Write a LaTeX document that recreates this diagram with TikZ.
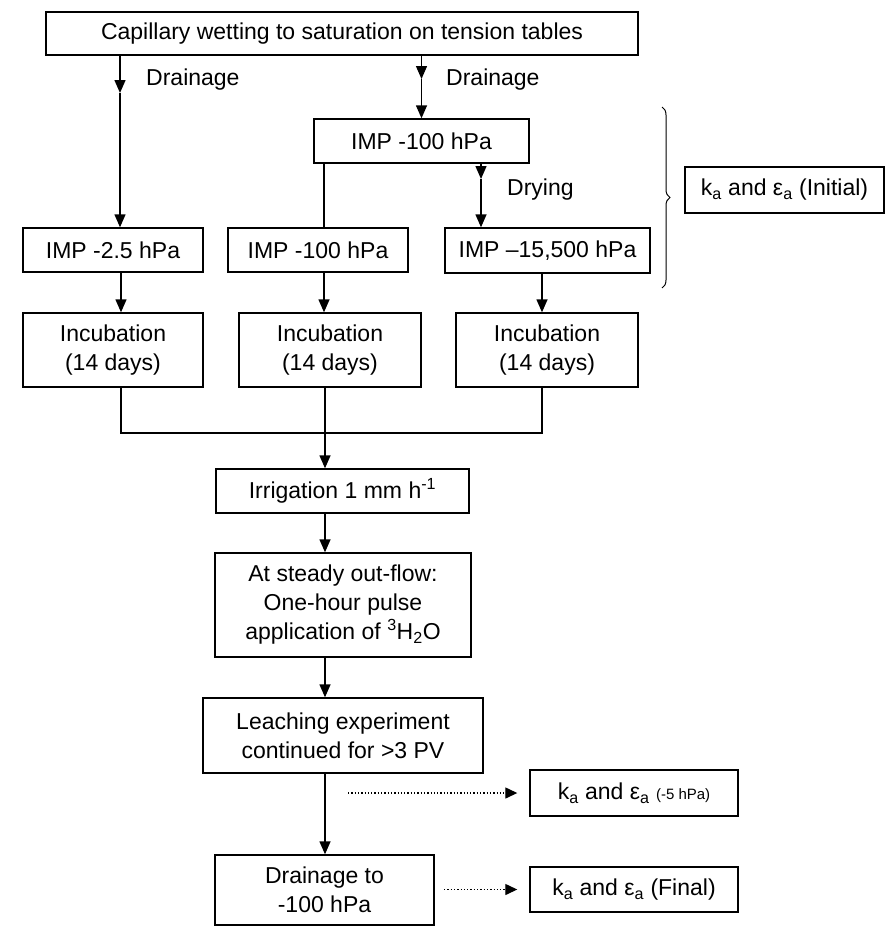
\documentclass[tikz,border=0pt]{standalone}
\usepackage{fontspec}
\setmainfont{Liberation Sans}
\usetikzlibrary{arrows.meta,decorations.pathreplacing}
\begin{document}
\begin{tikzpicture}[x=1pt,y=-1pt,
  every node/.style={font=\fontsize{23}{29}\selectfont},
  boxnode/.style={draw,line width=1.4pt,inner sep=0pt,align=center},
  conn/.style={line width=1.4pt},
  arr/.style={line width=1.4pt,-{Triangle[length=13pt,width=11pt]}},
  dotarr/.style={line width=1.3pt,dotted,-{Triangle[length=12pt,width=11pt]},shorten >=12pt},
  lbl/.style={anchor=west,inner sep=0pt},
  sm/.style={font=\fontsize{15}{16}\selectfont}]
\useasboundingbox (0,0) rectangle (886,929);
% boxes
\node[boxnode,minimum width=592pt,minimum height=43pt] (top) at (342,33.5) {Capillary wetting to saturation on tension tables};
\node[boxnode,minimum width=215pt,minimum height=44pt] (impA) at (421.5,141) {IMP -100 hPa};
\node[boxnode,minimum width=180pt,minimum height=44pt] (imp25) at (113,250) {IMP -2.5 hPa};
\node[boxnode,minimum width=180pt,minimum height=44pt] (impB) at (318,250) {IMP -100 hPa};
\node[boxnode,minimum width=205pt,minimum height=45pt] (imp155) at (547.5,250.5) {IMP –15,500 hPa};
\node[boxnode,minimum width=199pt,minimum height=46pt] (kinit) at (784.5,190) {k\textsubscript{a} and ε\textsubscript{a} (Initial)};
\node[boxnode,minimum width=180pt,minimum height=74pt] (incA) at (113,350) {Incubation\\(14 days)};
\node[boxnode,minimum width=182pt,minimum height=74pt] (incB) at (330,350) {Incubation\\(14 days)};
\node[boxnode,minimum width=182pt,minimum height=74pt] (incC) at (547,350) {Incubation\\(14 days)};
\node[boxnode,minimum width=253pt,minimum height=44pt] (irr) at (342.5,491) {Irrigation 1 mm h\textsuperscript{-1}};
\node[boxnode,minimum width=256pt,minimum height=104pt] (steady) at (343,605) {At steady out-flow:\\One-hour pulse\\application of \textsuperscript{3}H\textsubscript{2}O};
\node[boxnode,minimum width=280pt,minimum height=75pt] (leach) at (343,735.5) {Leaching experiment\\continued for >3 PV};
\node[boxnode,minimum width=219pt,minimum height=70pt] (drain) at (324.5,890) {Drainage to\\-100 hPa};
\node[boxnode,minimum width=208pt,minimum height=46pt] (kfive) at (634,793) {k\textsubscript{a} and ε\textsubscript{a} {\fontsize{15}{16}\selectfont (-5 hPa)}};
\node[boxnode,minimum width=208pt,minimum height=45pt] (kfin) at (634,889.5) {k\textsubscript{a} and ε\textsubscript{a} (Final)};
% labels
\node[lbl] (dr1) at (146,80) {Drainage};
\node[lbl] (dr2) at (446,80) {Drainage};
\node[lbl] (dry) at (507,190) {Drying};
% coordinates
\coordinate (mL) at (120,93);
\coordinate (mM) at (421.5,79);
\coordinate (mD) at (481,179);
\coordinate (jA) at (121,433);
\coordinate (jB) at (325,433);
\coordinate (jC) at (542,433);
\coordinate (d1) at (348,793);
\coordinate (d2) at (444,889.5);
% connectors
\draw[arr] (top.south -| mL) -- (mL);
\draw[arr] (mL) -- (imp25.north -| mL);
\draw[arr] (top.south -| mM) -- (mM);
\draw[arr] (mM) -- (impA.north);
\draw[arr] (impA.south -| mD) -- (mD);
\draw[arr] (mD) -- (imp155.north -| mD);
\draw[conn] (impA.south -| 324,0) -- (impB.north -| 324,0);
\draw[arr] (imp25.south -| jA) -- (incA.north -| jA);
\draw[arr] (impB.south -| 324,0) -- (incB.north -| 324,0);
\draw[arr] (imp155.south -| jC) -- (incC.north -| jC);
\draw[conn] (incA.south -| jA) -- (jA) -- (jC) -- (incC.south -| jC);
\draw[conn] (incB.south -| jB) -- (jB);
\draw[arr] (jB) -- (irr.north -| jB);
\draw[arr] (irr.south -| jB) -- (steady.north -| jB);
\draw[arr] (steady.south -| jB) -- (leach.north -| jB);
\draw[arr] (leach.south -| jB) -- (drain.north -| jB);
\draw[dotarr] (d1) -- (kfive.west);
\draw[dotarr] (d2) -- (kfin.west);
% brace
\draw[line width=1pt,decorate,decoration={brace,amplitude=8pt}] (662,107) -- (662,288);
\end{tikzpicture}
\end{document}
